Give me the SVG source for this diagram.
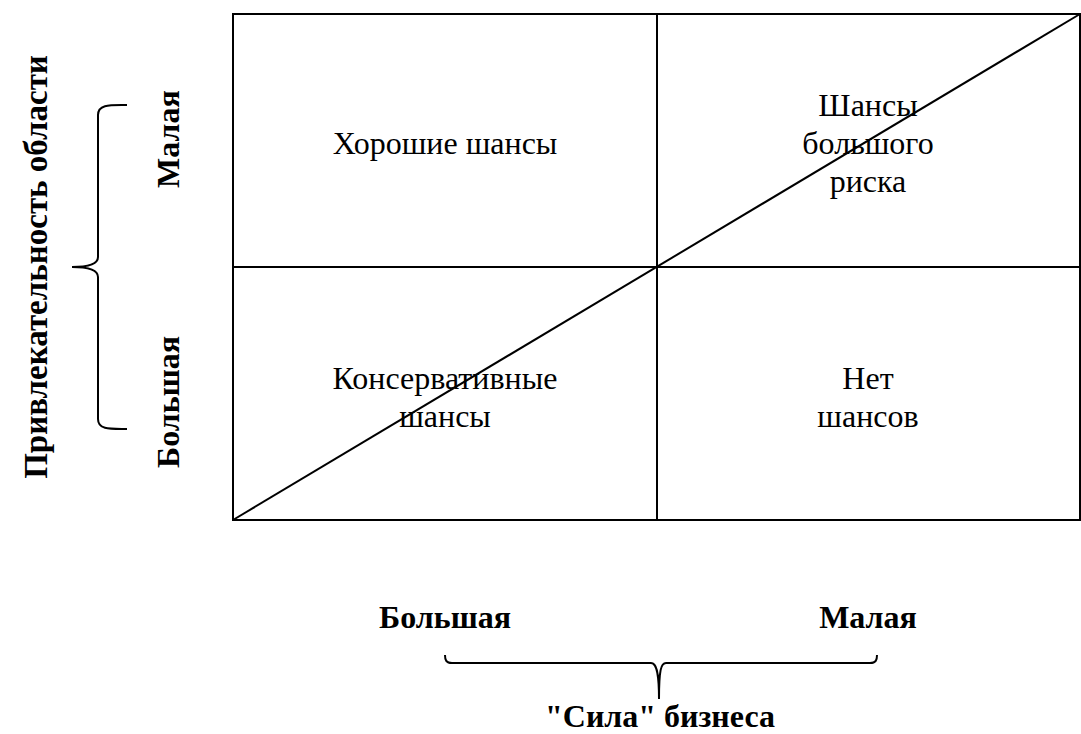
<svg xmlns="http://www.w3.org/2000/svg" width="1081" height="734" viewBox="0 0 1081 734">
<style>
.ln{fill:none;stroke:#000;stroke-width:2}
.br{fill:none;stroke:#000;stroke-width:2}
.t{font-family:"Liberation Serif","Times New Roman",serif;font-size:32px;fill:#000;text-anchor:middle}
.b{font-family:"Liberation Serif","Times New Roman",serif;font-size:32px;font-weight:bold;fill:#000;text-anchor:middle}
</style>
<rect width="1081" height="734" fill="#fff"/>
<g id="connectors">
<rect class="ln" x="233" y="14" width="847" height="506"/>
<line class="ln" x1="657" y1="14" x2="657" y2="520"/>
<line class="ln" x1="233" y1="267" x2="1080" y2="267"/>
<line class="ln" x1="233" y1="520" x2="1080" y2="14"/>
</g>
<g id="brace-left">
<path class="br" d="M127,105 C110,105 98,104 98,115 L98,257 C98,264 90,267 72,267 C90,267 98,270 98,277 L98,419 C98,430 110,429 127,429"/>
</g>
<g id="brace-bottom">
<path class="br" d="M445,655 C445,660 446,663 452,663 L651,663 C656,663 659,670 659,699 C659,670 661,663 666,663 L870,663 C876,663 877,660 877,655"/>
</g>
<g id="q1"><text class="t" x="445" y="154">Хорошие шансы</text></g>
<g id="q2"><text class="t" x="868" y="116">Шансы</text><text class="t" x="868" y="154">большого</text><text class="t" x="868" y="192">риска</text></g>
<g id="q3"><text class="t" x="445" y="389">Консервативные</text><text class="t" x="445" y="427">шансы</text></g>
<g id="q4"><text class="t" x="868" y="389">Нет</text><text class="t" x="868" y="427">шансов</text></g>
<g id="y-axis">
<text class="b" style="font-size:33px" transform="translate(47,267) rotate(-90)">Привлекательность области</text>
<text class="b" transform="translate(179,139) rotate(-90)">Малая</text>
<text class="b" transform="translate(179,402) rotate(-90)">Большая</text>
</g>
<g id="x-axis">
<text class="b" x="445" y="628">Большая</text>
<text class="b" x="868" y="628">Малая</text>
<text class="b" x="660" y="727">"Сила" бизнеса</text>
</g>
</svg>
